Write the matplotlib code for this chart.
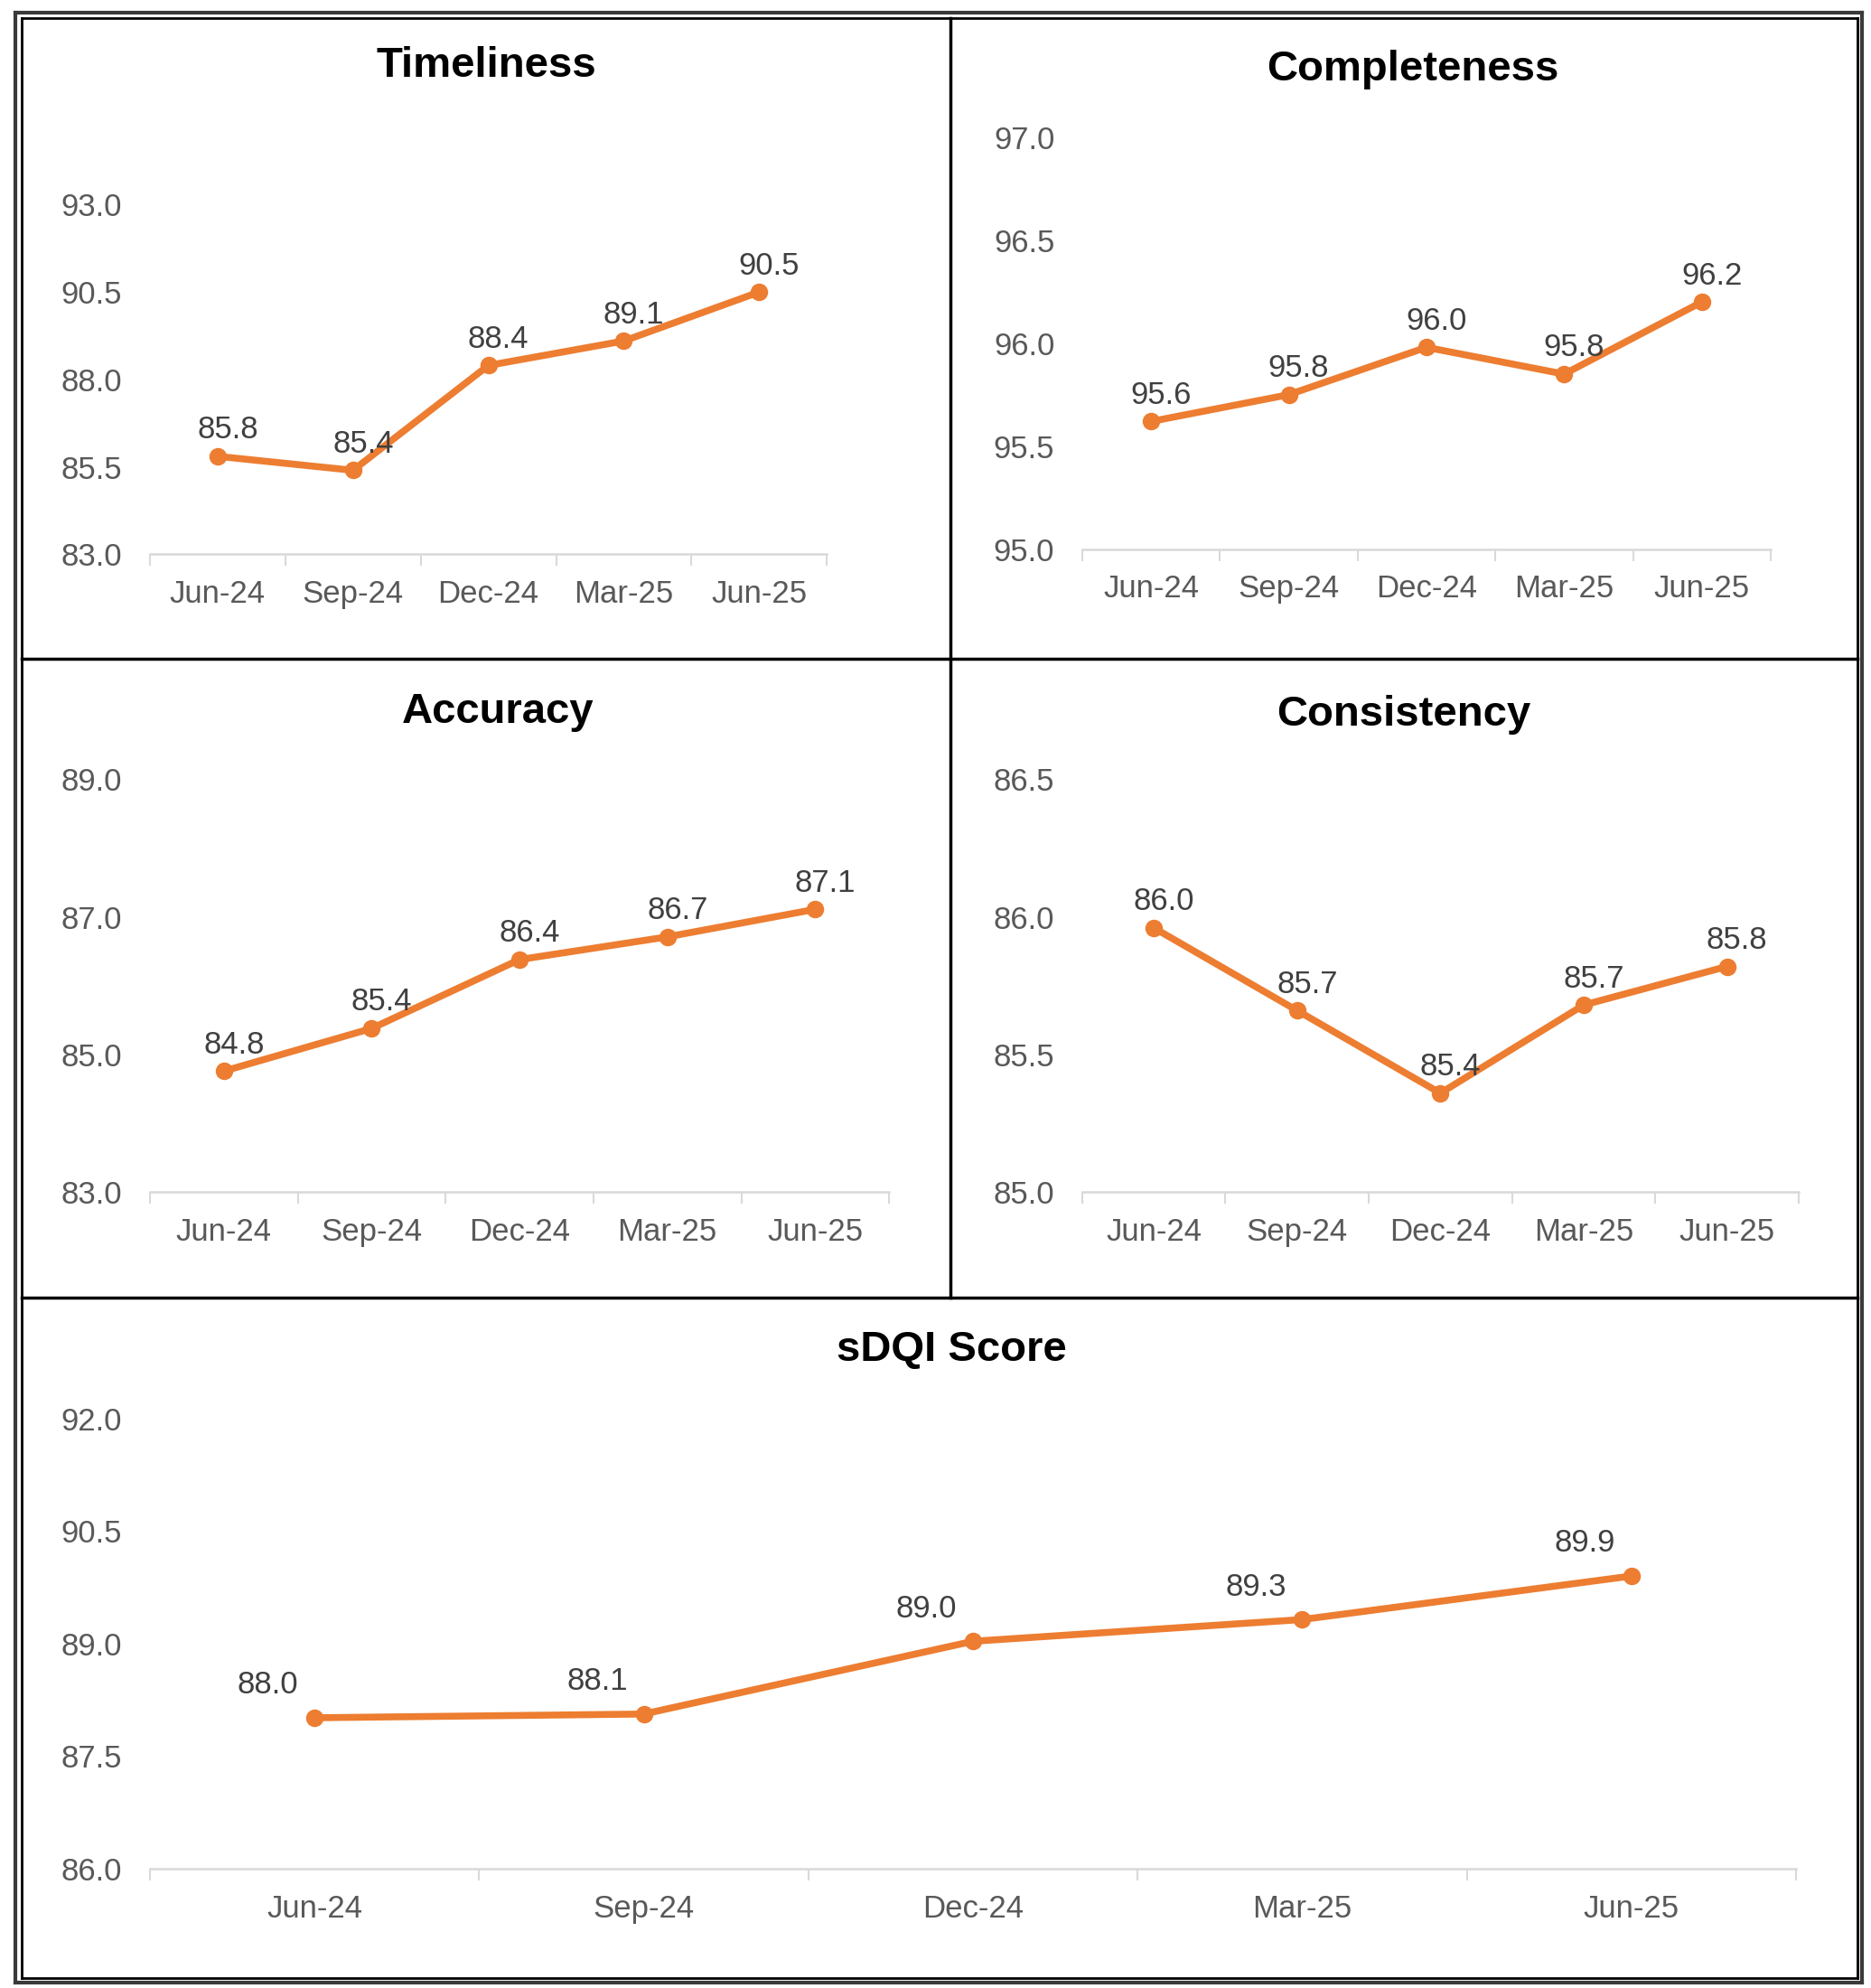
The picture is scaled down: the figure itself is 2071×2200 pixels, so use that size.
"""Panel de indicadores de calidad de datos (sDQI) por trimestre."""

import matplotlib
matplotlib.use("Agg")
import matplotlib.pyplot as plt
import numpy as np
from matplotlib.lines import Line2D

plt.rcParams["font.family"] = ["Liberation Sans", "DejaVu Sans"]

# ---- datos ----
quarters = ["Jun-24", "Sep-24", "Dec-24", "Mar-25", "Jun-25"]

timeliness = [85.8, 85.4, 88.4, 89.1, 90.5]
completeness = [95.62, 95.75, 95.98, 95.85, 96.2]
accuracy = [84.76, 85.38, 86.38, 86.71, 87.11]
consistency = [85.96, 85.66, 85.36, 85.68, 85.82]
sdqi = [88.01, 88.06, 89.03, 89.32, 89.9]

timeliness_ticks = [83.0, 85.5, 88.0, 90.5, 93.0]
completeness_ticks = [95.0, 95.5, 96.0, 96.5, 97.0]
accuracy_ticks = [83.0, 85.0, 87.0, 89.0]
consistency_ticks = [85.0, 85.5, 86.0, 86.5]
sdqi_ticks = [86.0, 87.5, 89.0, 90.5, 92.0]

ORANGE = "#ED7D31"
TICK_GREY = "#595959"
LABEL_GREY = "#404040"
AXIS_GREY = "#D9D9D9"

# coordenadas de referencia (px de la imagen 1473x1564)
W, H = 1473.0, 1564.0

fig = plt.figure(figsize=(20.71, 22.0), dpi=100)


def box(x0, y0, x1, y1):
    """Convierte un rectángulo en px (arriba-izquierda) a fracción de figura."""
    return [x0 / W, 1 - y1 / H, (x1 - x0) / W, (y1 - y0) / H]


def panel(rect, title, title_xy, values, ticks, label_dx=8, label_dy=21):
    ax = fig.add_axes(box(*rect))
    x = np.arange(len(quarters))
    ax.plot(x, values, color=ORANGE, lw=5.5, marker="o", ms=13,
            solid_capstyle="round", clip_on=False, zorder=3)
    for xi, v in zip(x, values):
        ax.annotate(f"{v:.1f}", (xi, v), xytext=(label_dx, label_dy),
                    textcoords="offset points", ha="center", va="center",
                    fontsize=25, color=LABEL_GREY, zorder=4)
    ax.set_xlim(-0.5, len(quarters) - 0.5)
    ax.set_ylim(ticks[0], ticks[-1])
    ax.set_yticks(ticks, [f"{t:.1f}" for t in ticks])
    ax.set_xticks(x, quarters)
    ax.set_xticks(np.arange(-0.5, len(quarters), 1), minor=True)
    ax.tick_params(axis="y", length=0, pad=22, labelsize=25, labelcolor=TICK_GREY)
    ax.tick_params(axis="x", which="major", length=0, pad=20, labelsize=25,
                   labelcolor=TICK_GREY)
    ax.tick_params(axis="x", which="minor", length=9, width=1.5, color=AXIS_GREY)
    for side in ("left", "right", "top"):
        ax.spines[side].set_visible(False)
    ax.spines["bottom"].set_color(AXIS_GREY)
    ax.spines["bottom"].set_linewidth(1.8)
    ax.patch.set_alpha(0)
    fig.text(title_xy[0] / W, 1 - title_xy[1] / H, title, ha="center", va="center",
             fontsize=34, fontweight="bold", color="black")
    return ax


panel((118, 161, 651, 436), "Timeliness", (383, 52), timeliness, timeliness_ticks)
panel((852, 108, 1394, 432), "Completeness", (1112, 55), completeness, completeness_ticks)
panel((118, 613, 700, 938), "Accuracy", (392, 560), accuracy, accuracy_ticks)
panel((852, 613, 1416, 938), "Consistency", (1105, 562), consistency, consistency_ticks)
panel((118, 1116, 1414, 1470), "sDQI Score", (749, 1062), sdqi, sdqi_ticks,
      label_dx=-37, label_dy=26)


# ---- marco y divisiones ----
def seg(x0, y0, x1, y1, color="black", lw=2.5):
    fig.add_artist(Line2D([x0 / W, x1 / W], [1 - y0 / H, 1 - y1 / H],
                          color=color, lw=lw, transform=fig.transFigure))


# doble borde exterior
for (l, t, r, b), c, w in [((12, 10, 1466, 1560), "#3a3a3a", 3.0),
                           ((17, 14, 1462, 1556), "black", 2.0)]:
    seg(l, t, r, t, c, w)
    seg(l, b, r, b, c, w)
    seg(l, t, l, b, c, w)
    seg(r, t, r, b, c, w)

seg(748, 14, 748, 1021)
seg(17, 518, 1462, 518)
seg(17, 1021, 1462, 1021)

fig.savefig("out.png", dpi=100)
